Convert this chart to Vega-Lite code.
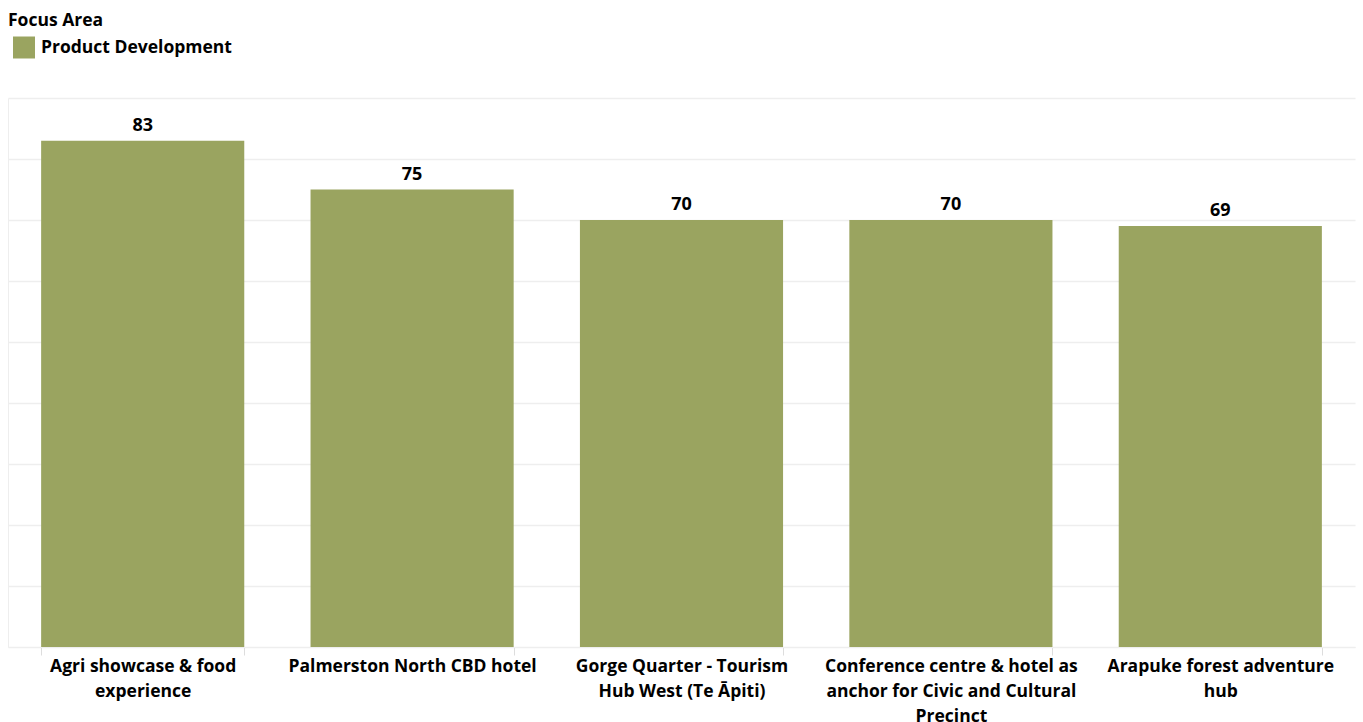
{
  "$schema": "https://vega.github.io/schema/vega-lite/v6.json",
  "width": 1347,
  "height": 549,
  "padding": {"left": 8, "top": 12, "right": 8, "bottom": 0},
  "background": "white",
  "config": {
    "font": "Open Sans",
    "view": {"stroke": null}
  },
  "data": {
    "values": [
      {"project": "Agri showcase & food experience", "score": 83, "area": "Product Development"},
      {"project": "Palmerston North CBD hotel", "score": 75, "area": "Product Development"},
      {"project": "Gorge Quarter - Tourism Hub West (Te Āpiti)", "score": 70, "area": "Product Development"},
      {"project": "Conference centre & hotel as anchor for Civic and Cultural Precinct", "score": 70, "area": "Product Development"},
      {"project": "Arapuke forest adventure hub", "score": 69, "area": "Product Development"}
    ]
  },
  "encoding": {
    "x": {
      "field": "project",
      "type": "nominal",
      "sort": null,
      "scale": {"paddingInner": 0.246, "paddingOuter": 0.123},
      "axis": {
        "title": null,
        "labelAngle": 0,
        "labelFont": "Open Sans",
        "labelFontWeight": "bold",
        "labelFontSize": 17.5,
        "labelColor": "#000000",
        "labelLineHeight": 25,
        "labelPadding": 2,
        "labelLimit": 300,
        "domainColor": "#eeeeee",
        "tickColor": "#dddddd",
        "tickBand": "extent",
        "tickSize": 8,
        "labelExpr": "datum.value == 'Agri showcase & food experience' ? ['Agri showcase & food', 'experience'] : datum.value == 'Gorge Quarter - Tourism Hub West (Te Āpiti)' ? ['Gorge Quarter - Tourism', 'Hub West (Te Āpiti)'] : datum.value == 'Conference centre & hotel as anchor for Civic and Cultural Precinct' ? ['Conference centre & hotel as', 'anchor for Civic and Cultural', 'Precinct'] : datum.value == 'Arapuke forest adventure hub' ? ['Arapuke forest adventure', 'hub'] : datum.value"
      }
    },
    "y": {
      "field": "score",
      "type": "quantitative",
      "scale": {"domain": [0, 90], "nice": false},
      "axis": {
        "title": null,
        "labels": false,
        "ticks": false,
        "values": [0, 10, 20, 30, 40, 50, 60, 70, 80, 90],
        "domainColor": "#eeeeee",
        "gridColor": "#eeeeee",
        "gridWidth": 1.5
      }
    }
  },
  "layer": [
    {
      "mark": {"type": "bar", "color": "#9aa460"},
      "encoding": {
        "color": {
          "field": "area",
          "type": "nominal",
          "scale": {"range": ["#9aa460"]},
          "legend": {
            "title": "Focus Area",
            "orient": "top",
            "direction": "vertical",
            "titleFont": "Open Sans",
            "titleFontWeight": "bold",
            "titleFontSize": 17.5,
            "titleColor": "#000000",
            "titlePadding": 7,
            "labelFont": "Open Sans",
            "labelFontWeight": "bold",
            "labelFontSize": 17.5,
            "labelColor": "#000000",
            "labelLimit": 400,
            "labelOffset": 6,
            "symbolType": "square",
            "symbolSize": 484,
            "symbolStrokeWidth": 0,
            "symbolOffset": 5,
            "offset": 39,
            "padding": 0
          }
        }
      }
    },
    {
      "mark": {"type": "text", "baseline": "bottom", "dy": -6, "fontWeight": "bold", "fontSize": 18, "font": "Open Sans", "color": "#000000"},
      "encoding": {
        "text": {"field": "score", "type": "quantitative"}
      }
    }
  ]
}
